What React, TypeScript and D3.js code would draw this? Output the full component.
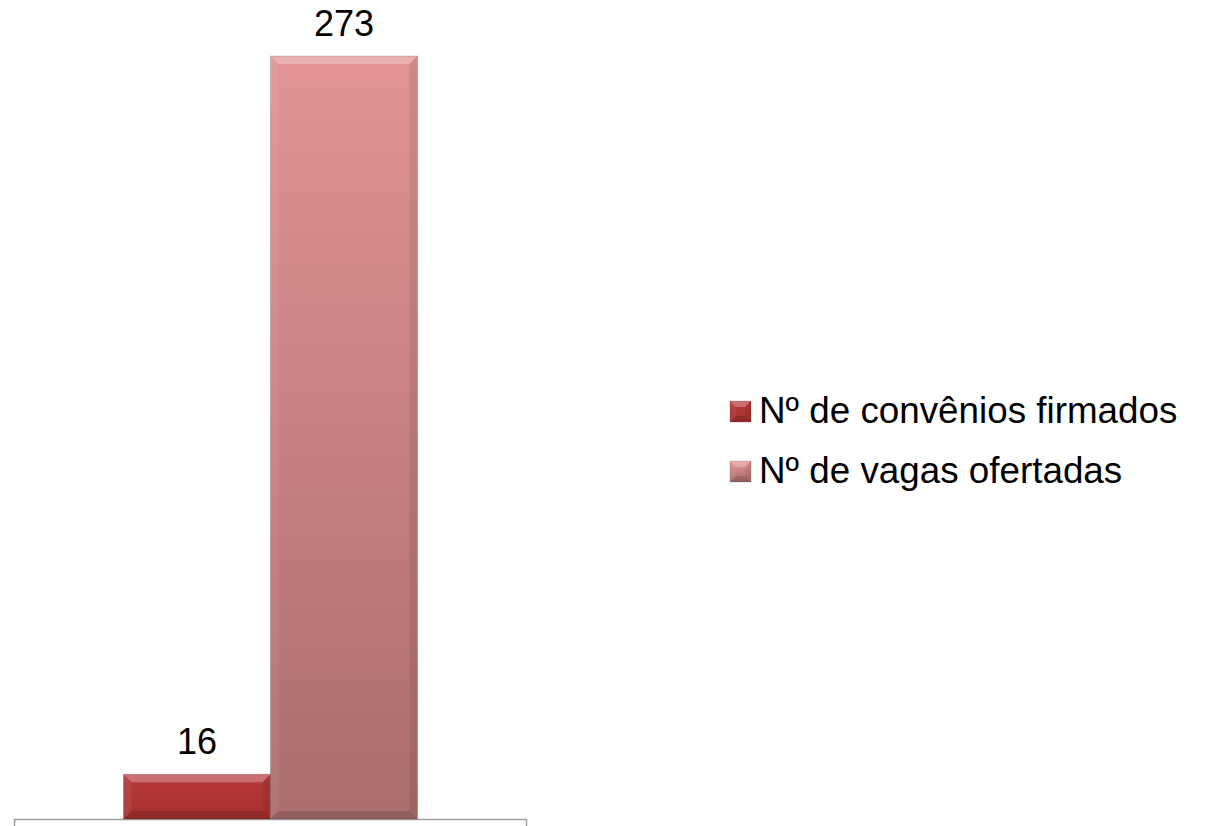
import { useRef, useEffect } from "react";
import * as d3 from "d3";

const categories = [""];
const seriesNames = ["Nº de convênios firmados", "Nº de vagas ofertadas"];
const seriesValues = [16, 273];
const seriesTop = ["#b83a3a", "#e39393"];
const seriesBottom = ["#a83030", "#ab6d6d"];

const W = 1205;
const H = 826;

export default function App() {
  const svgRef = useRef<SVGSVGElement | null>(null);

  useEffect(() => {
    const svg = d3.select(svgRef.current);
    svg.selectAll("*").remove();

    const baseY = 819;
    const x0 = d3.scaleBand().domain(categories).range([14, 527]).paddingInner(0).paddingOuter(0.3724);
    const x1 = d3.scaleBand().domain(seriesNames).range([0, x0.bandwidth()]);
    const y = d3.scaleLinear().domain([0, 273]).range([baseY, 56]);

    const defs = svg.append("defs");
    seriesNames.forEach((_, i) => {
      const g = defs
        .append("linearGradient")
        .attr("id", `grad${i}`)
        .attr("x1", 0)
        .attr("y1", 0)
        .attr("x2", 0)
        .attr("y2", 1);
      g.append("stop").attr("offset", "0%").attr("stop-color", seriesTop[i]);
      g.append("stop").attr("offset", "100%").attr("stop-color", seriesBottom[i]);
    });

    // bevelled box like Excel's 3D bar style
    const bevelBox = (
      parent: d3.Selection<SVGGElement, unknown, null, undefined>,
      x: number,
      yTop: number,
      w: number,
      h: number,
      i: number,
      b: number
    ) => {
      parent.append("rect").attr("x", x).attr("y", yTop).attr("width", w).attr("height", h).attr("fill", `url(#grad${i})`);
      const bb = Math.min(b, h / 2, w / 2);
      // top highlight
      parent
        .append("polygon")
        .attr("points", `${x},${yTop} ${x + w},${yTop} ${x + w - bb},${yTop + bb} ${x + bb},${yTop + bb}`)
        .attr("fill", "#ffffff")
        .attr("opacity", 0.28);
      // left side
      parent
        .append("polygon")
        .attr("points", `${x},${yTop} ${x + bb},${yTop + bb} ${x + bb},${yTop + h - bb} ${x},${yTop + h}`)
        .attr("fill", "#ffffff")
        .attr("opacity", 0.06);
      // right side
      parent
        .append("polygon")
        .attr("points", `${x + w},${yTop} ${x + w - bb},${yTop + bb} ${x + w - bb},${yTop + h - bb} ${x + w},${yTop + h}`)
        .attr("fill", "#000000")
        .attr("opacity", 0.08);
      // bottom
      parent
        .append("polygon")
        .attr("points", `${x},${yTop + h} ${x + bb},${yTop + h - bb} ${x + w - bb},${yTop + h - bb} ${x + w},${yTop + h}`)
        .attr("fill", "#000000")
        .attr("opacity", 0.14);
      parent
        .append("rect")
        .attr("x", x)
        .attr("y", yTop)
        .attr("width", w)
        .attr("height", h)
        .attr("fill", "none")
        .attr("stroke", "#000")
        .attr("stroke-opacity", 0.15)
        .attr("stroke-width", 1);
    };

    const plot = svg.append("g");

    // axis line with end ticks
    const ax0 = x0.range()[0];
    const ax1 = x0.range()[1];
    plot
      .append("path")
      .attr("d", `M${ax0 + 0.5},${H} V${baseY + 0.5} H${ax1 - 0.5} V${H}`)
      .attr("fill", "none")
      .attr("stroke", "#a0a0a0")
      .attr("stroke-width", 1.5);

    categories.forEach((c) => {
      seriesNames.forEach((s, i) => {
        const bx = (x0(c) ?? 0) + (x1(s) ?? 0);
        const bw = x1.bandwidth();
        const top = y(seriesValues[i]);
        bevelBox(plot, bx, top, bw, baseY - top, i, 8);
        plot
          .append("text")
          .attr("x", bx + bw / 2)
          .attr("y", top - 20)
          .attr("text-anchor", "middle")
          .attr("font-family", "'Liberation Sans', Arial, sans-serif")
          .attr("font-size", 36)
          .attr("fill", "#000")
          .text(seriesValues[i]);
      });
    });

    // legend
    const legend = svg.append("g").attr("transform", "translate(730,401)");
    seriesNames.forEach((s, i) => {
      const row = legend.append("g").attr("transform", `translate(0,${i * 60})`);
      bevelBox(row, 0, 0, 21, 21, i, 6);
      row
        .append("text")
        .attr("x", 29)
        .attr("y", 22)
        .attr("font-family", "'Liberation Sans', Arial, sans-serif")
        .attr("font-size", 36.8)
        .attr("fill", "#000")
        .text(s);
    });
  }, []);

  return (
    <svg
      ref={svgRef}
      width={W}
      height={H}
      style={{ position: "absolute", left: 0, top: 0, background: "#fff", display: "block" }}
    />
  );
}
